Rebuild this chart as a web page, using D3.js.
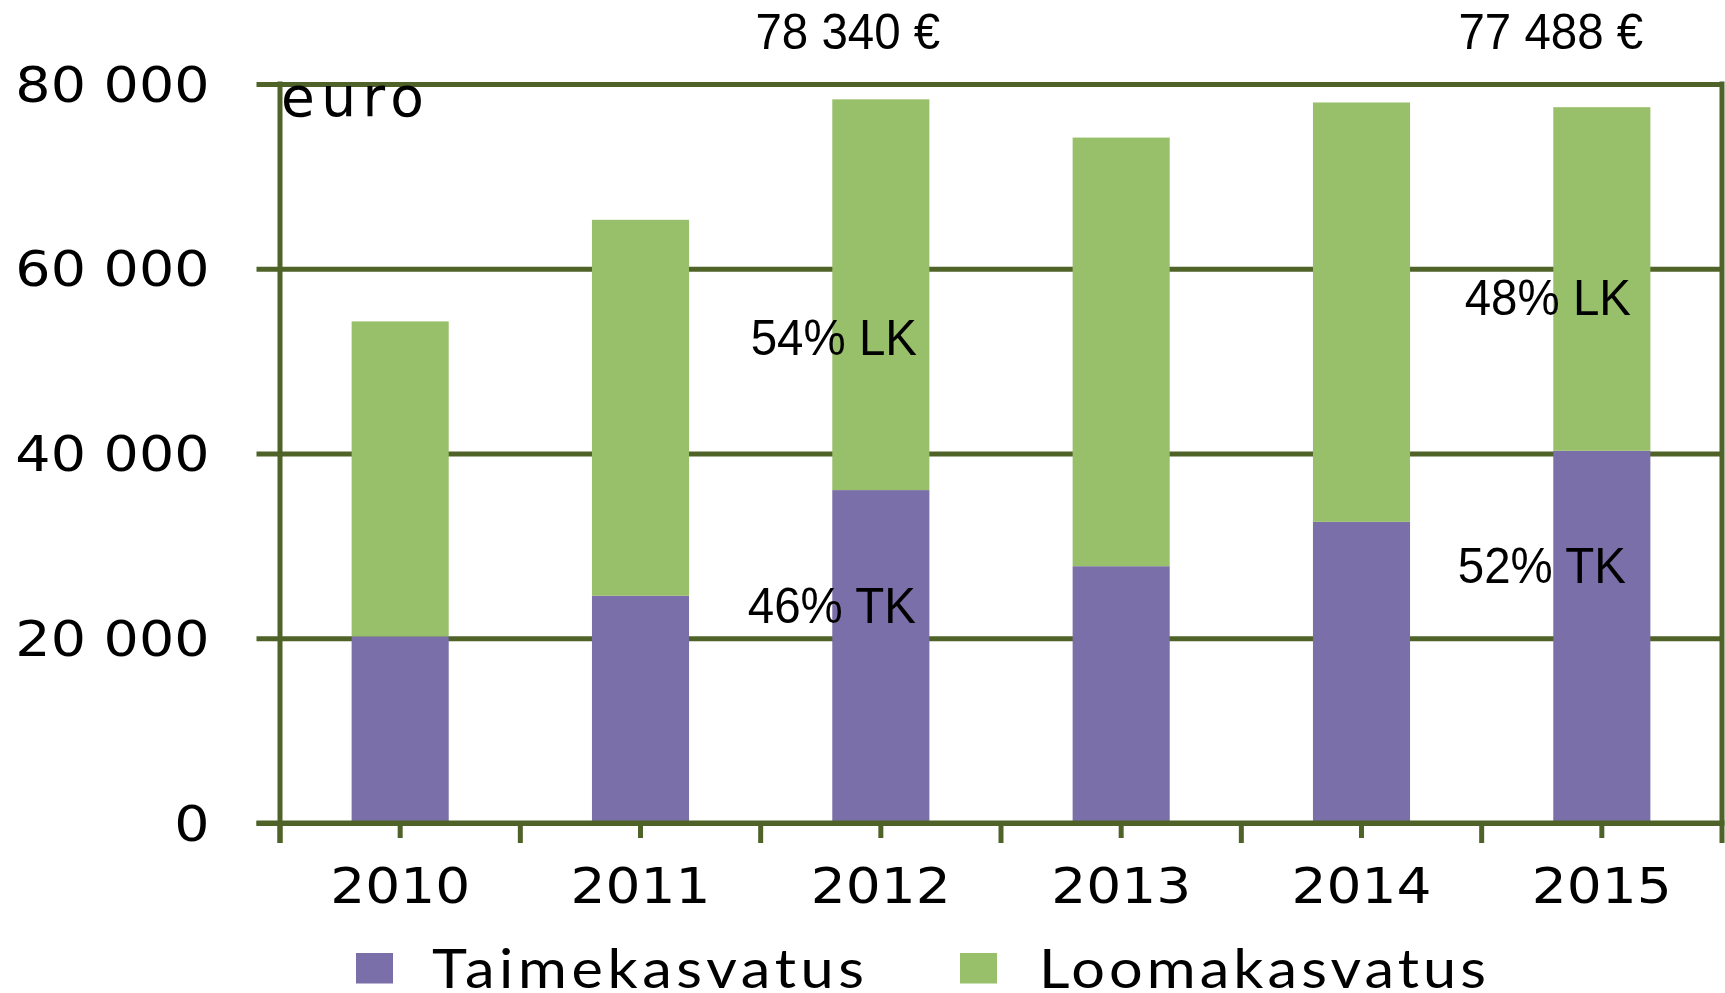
<!DOCTYPE html>
<html>
<head>
<meta charset="utf-8">
<script src="https://cdn.jsdelivr.net/npm/d3@7"></script>
<style>
  html, body { margin: 0; padding: 0; background: #fff; }
  svg { display: block; }
</style>
</head>
<body>
<svg id="chart" width="1725" height="993"></svg>
<script>
// ---- data ----
const years = ["2010", "2011", "2012", "2013", "2014", "2015"];
const taimekasvatus = [20200, 24600, 36040, 27800, 32600, 40290];
const loomakasvatus = [34100, 40700, 42300, 46400, 45400, 37198];
const seriesNames = ["Taimekasvatus", "Loomakasvatus"];
const yTicks = [0, 20000, 40000, 60000, 80000];
const totalLabels = [{ year: "2012", text: "78 340 €" }, { year: "2015", text: "77 488 €" }];
const shareLabels = [
  { year: "2012", text: "54% LK" }, { year: "2012", text: "46% TK" },
  { year: "2015", text: "48% LK" }, { year: "2015", text: "52% TK" }
];

// ---- layout ----
const svg = d3.select("#chart");
const L = 280, R = 1722, T = 84, B = 823;
const axisColor = "#4F6228";
const colors = { Taimekasvatus: "#7A6FA8", Loomakasvatus: "#98BF6A" };
const lw = 5;

// horizontally scale glyphs of a text by factor k, keeping its anchor point
function stretch(sel, k) {
  sel.each(function () {
    const t = d3.select(this);
    const tx = +t.attr("x") || 0, ty = +t.attr("y") || 0;
    t.attr("x", 0).attr("y", 0)
      .attr("transform", `translate(${tx},${ty}) scale(${k},1)`);
  });
}

const x = d3.scaleBand().domain(years).range([L, R]).paddingInner(0.596).paddingOuter(0.298);
const y = d3.scaleLinear().domain([0, 80000]).range([B, T]);

const table = years.map((yr, i) => ({ year: yr, Taimekasvatus: taimekasvatus[i], Loomakasvatus: loomakasvatus[i] }));
const stack = d3.stack().keys(seriesNames)(table);

// gridlines + y labels
const fmt = d3.formatLocale({ decimal: ",", thousands: " ", grouping: [3], currency: ["", " €"] }).format(",");
const gridLeft = 256.5;
const yAxis = d3.axisLeft(y).tickValues(yTicks).tickFormat(fmt)
  .tickSizeInner(-(R - gridLeft)).tickSizeOuter(0).tickPadding(47);
const gy = svg.append("g").attr("transform", `translate(${gridLeft},0)`).call(yAxis);
gy.select(".domain").remove();
gy.selectAll(".tick line").attr("stroke", axisColor).attr("stroke-width", lw);
gy.selectAll(".tick text").attr("fill", "#000").attr("font-family", "DejaVu Sans")
  .attr("font-size", 50).attr("dy", "0.34em").call(stretch, 1.11);

// bars
svg.append("g").selectAll("g").data(stack).join("g")
  .attr("fill", d => colors[d.key])
  .selectAll("rect").data(d => d).join("rect")
  .attr("x", d => x(d.data.year))
  .attr("width", x.bandwidth())
  .attr("y", d => y(d[1]))
  .attr("height", d => y(d[0]) - y(d[1]));

// right frame line
svg.append("line").attr("x1", R).attr("x2", R).attr("y1", T - lw / 2).attr("y2", B)
  .attr("stroke", axisColor).attr("stroke-width", lw);

// left axis line
svg.append("line").attr("x1", L).attr("x2", L).attr("y1", T - lw / 2).attr("y2", B + 20)
  .attr("stroke", axisColor).attr("stroke-width", lw);

// bottom axis
const xAxis = d3.axisBottom(x).tickSizeInner(15).tickSizeOuter(0).tickPadding(28);
const gx = svg.append("g").attr("transform", `translate(0,${B})`).call(xAxis);
gx.select(".domain").remove();
gx.selectAll(".tick line").attr("stroke", axisColor).attr("stroke-width", lw);
gx.selectAll(".tick text").attr("fill", "#000").attr("font-family", "DejaVu Sans")
  .attr("font-size", 50.5).attr("y", 44).attr("dy", "0.71em").call(stretch, 1.09);
svg.append("line").attr("x1", gridLeft).attr("x2", R + lw / 2).attr("y1", B).attr("y2", B)
  .attr("stroke", axisColor).attr("stroke-width", lw);
// major ticks at category boundaries
const bounds = d3.range(years.length + 1).map(i => L + i * x.step());
svg.append("g").selectAll("line").data(bounds).join("line")
  .attr("x1", d => d).attr("x2", d => d).attr("y1", B).attr("y2", B + 20)
  .attr("stroke", axisColor).attr("stroke-width", lw);

// unit label
svg.append("text").attr("x", 281).attr("y", 116).attr("font-family", "DejaVu Sans")
  .attr("font-size", 55).attr("textLength", 143).attr("lengthAdjust", "spacing").text("euro");

// annotations
const cx = yr => x(yr) + x.bandwidth() / 2;
const totalOffset = { "2012": -33, "2015": -51 };
svg.append("g").selectAll("text").data(totalLabels).join("text")
  .attr("x", d => cx(d.year) + totalOffset[d.year]).attr("y", 49)
  .attr("text-anchor", "middle").attr("font-family", "Liberation Sans, Arial")
  .attr("font-size", 50).text(d => d.text).call(stretch, 0.95);
const sharePos = {
  "54% LK": [-47, 355], "46% TK": [-49, 623],
  "48% LK": [-54, 315], "52% TK": [-60, 583]
};
svg.append("g").selectAll("text").data(shareLabels).join("text")
  .attr("x", d => cx(d.year) + sharePos[d.text][0]).attr("y", d => sharePos[d.text][1])
  .attr("text-anchor", "middle").attr("font-family", "Liberation Sans, Arial")
  .attr("font-size", 50).text(d => d.text).call(stretch, 0.95);

// legend
const legendItems = [
  { name: seriesNames[0], rx: 356, tx: 432, tl: 432 },
  { name: seriesNames[1], rx: 960, tx: 1039, tl: 447 }
];
const lk = 1.1;
const lg = svg.append("g").selectAll("g").data(legendItems).join("g");
lg.append("rect").attr("x", d => d.rx).attr("y", 953).attr("width", 37).attr("height", 30.5)
  .attr("fill", d => colors[d.name]);
lg.append("text")
  .attr("transform", d => `translate(${d.tx},988) scale(${lk},1)`)
  .attr("font-family", "Lato").attr("font-size", 54)
  .attr("textLength", d => d.tl / lk).attr("lengthAdjust", "spacing")
  .text(d => d.name);
</script>
</body>
</html>
